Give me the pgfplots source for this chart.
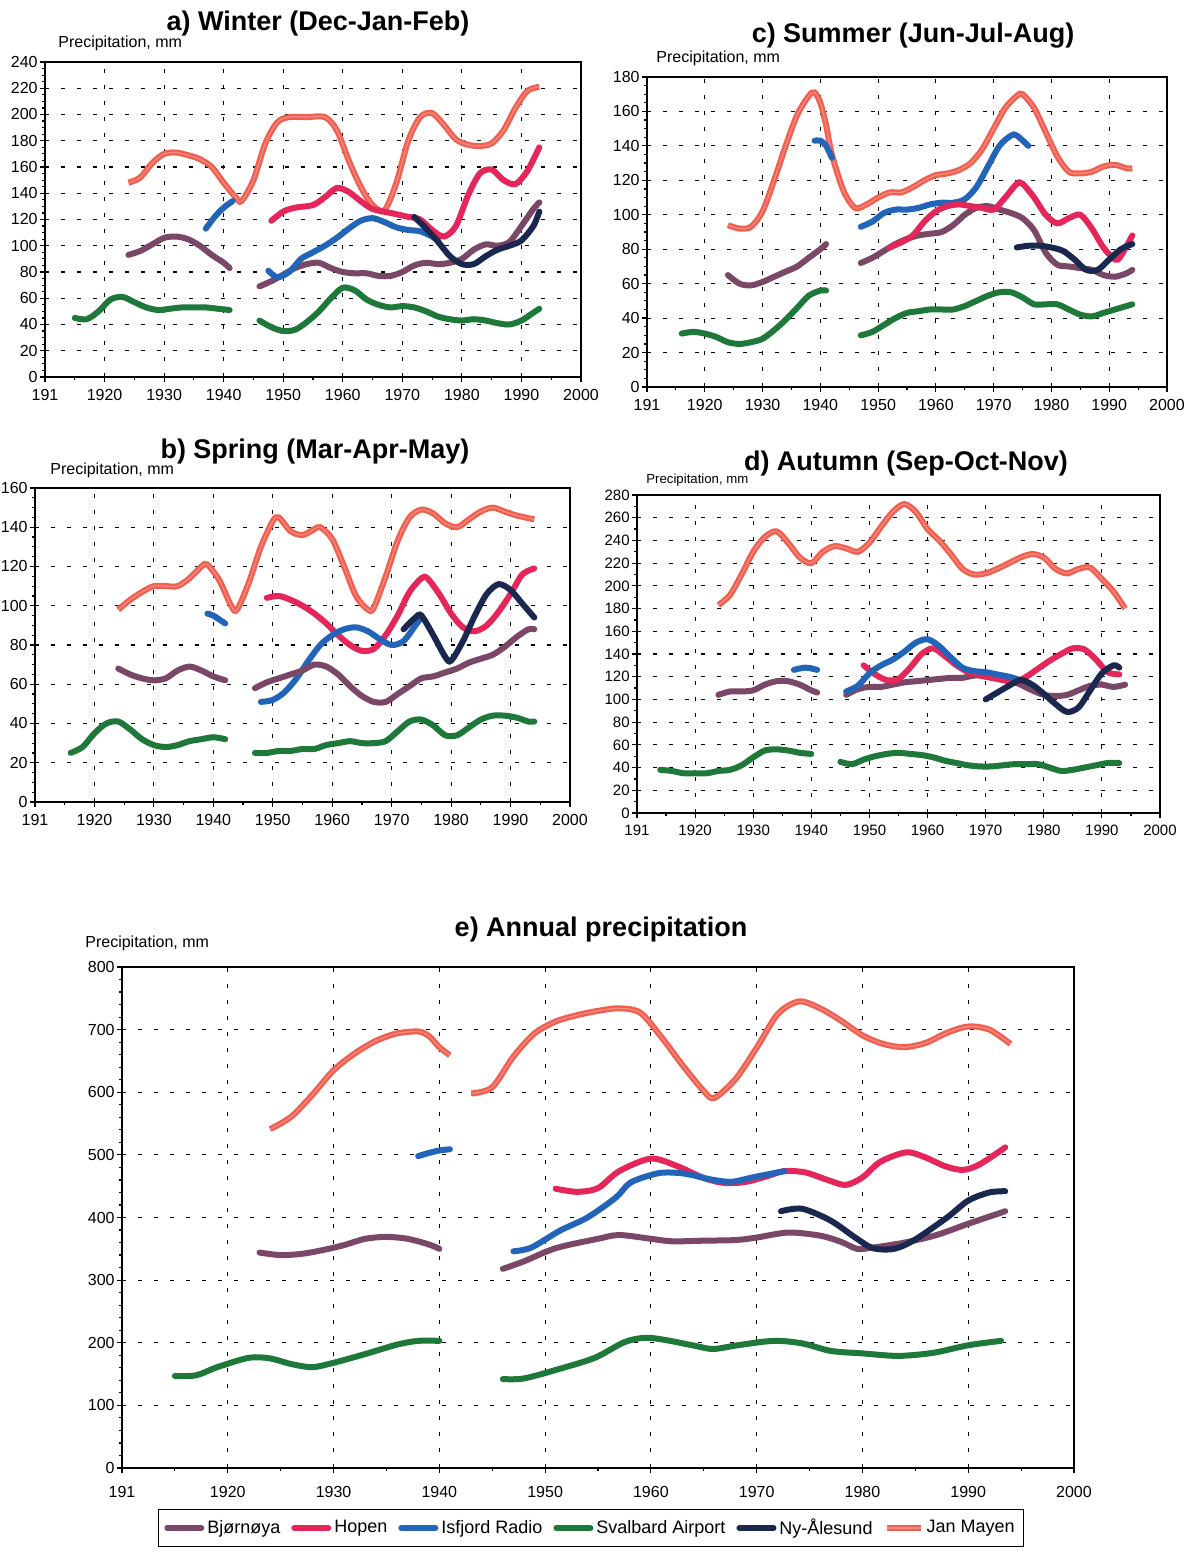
\documentclass[border=0pt]{standalone}
\usepackage{fontspec}
\setmainfont{Liberation Sans}
\usepackage{pgfplots}
\pgfplotsset{compat=1.18}

\definecolor{bjorn}{RGB}{122,72,102}
\definecolor{hopen}{RGB}{228,38,90}
\definecolor{isfj}{RGB}{34,100,184}
\definecolor{sval}{RGB}{30,120,58}
\definecolor{nyal}{RGB}{26,40,80}
\definecolor{janm}{RGB}{240,95,80}

\pgfplotsset{
  panel/.style={
    scale only axis, xmin=1910, xmax=2000,
    xtick={1910,1920,...,2000},
    xticklabels={191,1920,1930,1940,1950,1960,1970,1980,1990,2000},
    minor x tick num=1,
    tick pos=left,
    grid=major,
    major grid style={black, line width=0.55pt, dash pattern=on 2pt off 6pt},
    axis line style={black, line width=1.2pt},
    tick style={black, line width=0.6pt},
    tick align=outside, major tick length=2.5pt, minor tick length=1.5pt,
    ticklabel style={font=\fontsize{8}{9}\selectfont},
    yticklabel style={inner xsep=1pt},
    /pgf/number format/assume math mode=true,
    no markers,
  },
  bj/.style={bjorn, line width=3pt, smooth, line cap=round},
  ho/.style={hopen, line width=3pt, smooth, line cap=round},
  is/.style={isfj, line width=3pt, smooth, line cap=round},
  sv/.style={sval, line width=3pt, smooth, line cap=round},
  ny/.style={nyal, line width=3pt, smooth, line cap=round},
  jm/.style={janm, line width=1.2pt, double=janm!72!white, double distance=0.6pt, smooth},
}

\newcommand{\ttl}[1]{\fontsize{13.5}{16}\selectfont\bfseries #1}
\newcommand{\plab}{\fontsize{8}{9}\selectfont Precipitation, mm}

\begin{document}
\begin{tikzpicture}
\path[use as bounding box] (0,0) rectangle (601.5pt,775.5pt);

% ---------------- a) Winter
\begin{axis}[panel, at={(22.5pt,587pt)}, anchor=south west, width=268pt, height=157.5pt,
  ymin=0, ymax=240, ytick={0,20,...,240}, minor y tick num=3]
\addplot[jm] coordinates {(1924,148) (1926,152) (1928,163) (1930,170) (1932,171) (1934,169) (1936,166) (1938,160) (1940,148) (1942,137) (1943,134) (1945,150) (1947,178) (1949,194) (1951,198) (1954,198) (1957,198) (1959,188) (1961,165) (1963,145) (1965,131) (1967,127) (1969,148) (1971,180) (1973,198) (1975,201) (1977,192) (1979,181) (1981,177) (1983,176) (1985,178) (1987,188) (1989,205) (1991,218) (1993,221)};
\addplot[bj] coordinates {(1924,93) (1926,96) (1928,101) (1930,106) (1932,107) (1934,105) (1936,100) (1938,93) (1940,87) (1941,83)};
\addplot[bj] coordinates {(1946,69) (1948,73) (1950,78) (1952,83) (1954,86) (1956,87) (1958,83) (1960,80) (1962,79) (1964,79) (1966,77) (1968,77) (1970,80) (1972,85) (1974,87) (1976,86) (1978,87) (1980,90) (1982,97) (1984,101) (1986,100) (1988,103) (1990,115) (1992,128) (1993,133)};
\addplot[ho] coordinates {(1948,119) (1950,126) (1952,129) (1955,131) (1957,137) (1959,144) (1961,141) (1963,134) (1965,128) (1968,125) (1971,122) (1973,120) (1975,112) (1977,107) (1979,115) (1981,138) (1983,155) (1985,158) (1987,150) (1989,147) (1991,157) (1993,175)};
\addplot[is] coordinates {(1937,113) (1938.5,122) (1940,129) (1941.5,134)};
\addplot[is] coordinates {(1947.5,81) (1949,76) (1951,80) (1953,90) (1955,95) (1957,100) (1959,106) (1961,113) (1963,119) (1965,121) (1967,118) (1969,114) (1971,112) (1973,111) (1975,107) (1976,104)};
\addplot[ny] coordinates {(1972,122) (1974,113) (1976,103) (1978,92) (1980,86) (1982,86) (1984,92) (1986,97) (1988,100) (1990,104) (1992,115) (1993,126)};
\addplot[sv] coordinates {(1915,45) (1917,44) (1919,50) (1921,59) (1923,61) (1925,57) (1927,53) (1929,51) (1931,52) (1933,53) (1935,53) (1937,53) (1939,52) (1941,51)};
\addplot[sv] coordinates {(1946,43) (1948,38) (1950,35) (1952,36) (1954,42) (1956,50) (1958,60) (1960,68) (1962,66) (1964,59) (1966,55) (1968,53) (1970,54) (1972,53) (1974,50) (1976,46) (1978,44) (1980,43) (1982,44) (1984,43) (1986,41) (1988,40) (1990,43) (1992,49) (1993,52)};
\end{axis}

% ---------------- c) Summer
\begin{axis}[panel, at={(323.5pt,582pt)}, anchor=south west, width=260pt, height=155pt,
  ymin=0, ymax=180, ytick={0,20,...,180}, minor y tick num=3]
\addplot[jm] coordinates {(1924,94) (1926,92) (1928,93) (1930,102) (1932,120) (1934,140) (1936,158) (1938,169) (1939,171) (1940,165) (1941,152) (1942,135) (1944,114) (1946,104) (1948,106) (1950,110) (1952,113) (1954,113) (1956,116) (1958,120) (1960,123) (1962,124) (1964,126) (1966,130) (1968,138) (1970,150) (1972,162) (1974,169) (1975,170) (1977,162) (1979,148) (1981,134) (1983,125) (1985,124) (1987,125) (1989,128) (1991,129) (1993,127) (1994,127)};
\addplot[is] coordinates {(1939,143) (1940,143) (1941,140) (1942,133)};
\addplot[is] coordinates {(1947,93) (1949,96) (1951,101) (1953,103) (1955,103) (1957,104) (1959,106) (1961,107) (1963,107) (1965,109) (1967,116) (1969,128) (1971,140) (1973,146) (1974,146) (1976,140)};
\addplot[bj] coordinates {(1924,65) (1926,60) (1928,59) (1930,61) (1932,64) (1934,67) (1936,70) (1938,75) (1940,80) (1941,83)};
\addplot[bj] coordinates {(1947,72) (1949,75) (1951,79) (1953,83) (1955,86) (1957,88) (1959,89) (1961,90) (1963,94) (1965,100) (1967,104) (1969,105) (1971,103) (1973,101) (1975,98) (1977,91) (1979,78) (1981,71) (1983,70) (1985,69) (1987,68) (1989,65) (1991,64) (1993,66) (1994,68)};
\addplot[ho] coordinates {(1952,81) (1954,84) (1956,88) (1958,96) (1960,102) (1962,105) (1964,106) (1966,105) (1968,104) (1970,103) (1972,110) (1974,118) (1975,118) (1977,110) (1979,100) (1981,95) (1983,98) (1985,100) (1987,92) (1989,81) (1991,74) (1992,76) (1994,88)};
\addplot[ny] coordinates {(1974,81) (1976,82) (1978,82) (1980,81) (1982,79) (1984,74) (1986,68) (1988,68) (1990,74) (1992,80) (1994,83)};
\addplot[sv] coordinates {(1916,31) (1918,32) (1920,31) (1922,29) (1924,26) (1926,25) (1928,26) (1930,28) (1932,33) (1934,39) (1936,46) (1938,53) (1940,56) (1941,56)};
\addplot[sv] coordinates {(1947,30) (1949,32) (1951,36) (1953,40) (1955,43) (1957,44) (1959,45) (1961,45) (1963,45) (1965,47) (1967,50) (1969,53) (1971,55) (1973,55) (1975,52) (1977,48) (1979,48) (1981,48) (1983,45) (1985,42) (1987,41) (1989,43) (1991,45) (1993,47) (1994,48)};
\end{axis}

% ---------------- b) Spring
\begin{axis}[panel, at={(17.5pt,374.5pt)}, anchor=south west, width=267.5pt, height=157pt,
  ymin=0, ymax=160, ytick={0,20,...,160}, minor y tick num=3]
\addplot[jm] coordinates {(1924,98) (1926,103) (1928,107) (1930,110) (1932,110) (1934,110) (1936,114) (1938,120) (1939,121) (1941,113) (1943,100) (1944,98) (1946,112) (1948,130) (1950,143) (1951,145) (1953,138) (1955,136) (1957,139) (1958,140) (1960,134) (1962,120) (1964,105) (1966,98) (1967,99) (1969,115) (1971,133) (1973,145) (1975,149) (1977,147) (1979,142) (1981,140) (1983,144) (1985,148) (1987,150) (1989,148) (1991,146) (1994,144)};
\addplot[ho] coordinates {(1949,104) (1951,105) (1953,103) (1955,100) (1957,96) (1959,91) (1961,85) (1963,80) (1965,77) (1967,78) (1969,85) (1971,95) (1973,107) (1975,114) (1976,114) (1978,106) (1980,96) (1982,89) (1984,87) (1986,90) (1988,97) (1990,106) (1992,116) (1994,119)};
\addplot[is] coordinates {(1939,96) (1940,95) (1941,93) (1942,91)};
\addplot[is] coordinates {(1948,51) (1950,52) (1952,56) (1954,63) (1956,72) (1958,80) (1960,85) (1962,88) (1964,89) (1966,87) (1968,83) (1970,80) (1972,82) (1974,90) (1975,94)};
\addplot[ny] coordinates {(1972,88) (1974,94) (1975,95) (1977,85) (1979,74) (1980,72) (1982,82) (1984,95) (1986,106) (1988,111) (1990,108) (1992,101) (1994,94)};
\addplot[bj] coordinates {(1924,68) (1926,65) (1928,63) (1930,62) (1932,63) (1934,67) (1936,69) (1938,67) (1940,64) (1942,62)};
\addplot[bj] coordinates {(1947,58) (1949,61) (1951,63) (1953,65) (1955,67) (1957,70) (1959,69) (1961,65) (1963,59) (1965,54) (1967,51) (1969,51) (1971,55) (1973,59) (1975,63) (1977,64) (1979,66) (1981,68) (1983,71) (1985,73) (1987,75) (1989,79) (1991,84) (1993,88) (1994,88)};
\addplot[sv] coordinates {(1916,25) (1918,28) (1920,35) (1922,40) (1924,41) (1926,37) (1928,32) (1930,29) (1932,28) (1934,29) (1936,31) (1938,32) (1940,33) (1942,32)};
\addplot[sv] coordinates {(1947,25) (1949,25) (1951,26) (1953,26) (1955,27) (1957,27) (1959,29) (1961,30) (1963,31) (1965,30) (1967,30) (1969,31) (1971,36) (1973,41) (1975,42) (1977,39) (1979,34) (1981,34) (1983,38) (1985,42) (1987,44) (1989,44) (1991,43) (1993,41) (1994,41)};
\end{axis}

% ---------------- d) Autumn
\begin{axis}[panel, at={(318.5pt,369pt)}, anchor=south west, width=261.5pt, height=159pt,
  ymin=0, ymax=280, ytick={0,20,...,280}, minor y tick num=1,
  ticklabel style={font=\fontsize{7.5}{9}\selectfont}]
\addplot[jm] coordinates {(1924,183) (1926,192) (1928,210) (1930,230) (1932,243) (1934,248) (1936,238) (1938,225) (1940,220) (1942,230) (1944,235) (1946,233) (1948,230) (1950,238) (1952,252) (1954,265) (1956,272) (1958,265) (1960,250) (1962,240) (1964,228) (1966,215) (1968,210) (1970,211) (1972,215) (1974,220) (1976,225) (1978,228) (1980,225) (1982,215) (1984,211) (1986,215) (1988,216) (1990,206) (1992,195) (1994,180)};
\addplot[bj] coordinates {(1924,104) (1926,107) (1928,107) (1930,108) (1932,113) (1934,116) (1936,116) (1938,113) (1940,108) (1941,106)};
\addplot[bj] coordinates {(1946,104) (1948,109) (1950,111) (1952,111) (1954,113) (1956,115) (1958,116) (1960,117) (1962,118) (1964,119) (1966,119) (1968,121) (1970,121) (1972,120) (1974,117) (1976,113) (1978,108) (1980,104) (1982,103) (1984,104) (1986,108) (1988,112) (1990,113) (1992,111) (1994,113)};
\addplot[ho] coordinates {(1949,130) (1951,122) (1953,117) (1955,118) (1957,128) (1959,140) (1961,145) (1963,138) (1965,130) (1967,124) (1969,121) (1971,119) (1973,117) (1975,115) (1977,120) (1979,127) (1981,134) (1983,140) (1985,145) (1987,144) (1989,135) (1991,124) (1993,122)};
\addplot[is] coordinates {(1937,126) (1939,128) (1941,126)};
\addplot[is] coordinates {(1946,107) (1948,112) (1950,123) (1952,130) (1954,135) (1956,142) (1958,150) (1960,153) (1962,147) (1964,137) (1966,128) (1968,125) (1970,124) (1972,122) (1974,120) (1976,117)};
\addplot[ny] coordinates {(1970,100) (1972,106) (1974,112) (1976,117) (1978,113) (1980,105) (1982,96) (1984,89) (1986,93) (1988,108) (1990,123) (1992,130) (1993,128)};
\addplot[sv] coordinates {(1914,38) (1916,37) (1918,35) (1920,35) (1922,35) (1924,37) (1926,38) (1928,42) (1930,49) (1932,55) (1934,56) (1936,55) (1938,53) (1940,52)};
\addplot[sv] coordinates {(1945,45) (1947,43) (1949,47) (1951,50) (1953,52) (1955,53) (1957,52) (1959,51) (1961,49) (1963,46) (1965,44) (1967,42) (1969,41) (1971,41) (1973,42) (1975,43) (1977,43) (1979,43) (1981,40) (1983,37) (1985,38) (1987,40) (1989,42) (1991,44) (1993,44)};
\end{axis}

% ---------------- e) Annual
\begin{axis}[panel, at={(61pt,41.5pt)}, anchor=south west, width=476pt, height=250.5pt,
  ymin=0, ymax=800, ytick={0,100,...,800}, minor y tick num=4,
  xticklabel style={yshift=-3pt},
  legend columns=6,
  legend image code/.code={\draw[#1] (0pt,0pt) -- (17pt,0pt);},
  legend style={at={(0.4926,-0.1198)}, anchor=center, draw=black, line width=0.8pt,
    font=\fontsize{9}{11}\selectfont, inner xsep=3pt, inner ysep=3pt,
    nodes={inner xsep=1.5pt, inner ysep=1.5pt},
    /tikz/every even column/.append style={column sep=4pt}}]
\addlegendimage{bj}\addlegendentry{Bjørnøya}
\addlegendimage{ho}\addlegendentry{Hopen}
\addlegendimage{is}\addlegendentry{Isfjord Radio}
\addlegendimage{sv}\addlegendentry{Svalbard Airport}
\addlegendimage{ny}\addlegendentry{Ny-Ålesund}
\addlegendimage{jm}\addlegendentry{Jan Mayen}
\addplot[jm, forget plot] coordinates {(1924,541) (1926,561) (1928,596) (1930,635) (1932,662) (1934,682) (1936,694) (1938,697) (1939,690) (1940,672) (1941,659)};
\addplot[jm, forget plot] coordinates {(1943,598) (1945,608) (1947,657) (1949,694) (1951,713) (1953,723) (1955,730) (1957,734) (1959,727) (1961,688) (1963,643) (1965,602) (1966,591) (1968,621) (1970,671) (1972,725) (1974,745) (1976,734) (1978,714) (1980,691) (1982,677) (1984,672) (1986,679) (1988,695) (1990,705) (1992,700) (1994,677)};
\addplot[bj, forget plot] coordinates {(1923,344) (1925,340) (1927,342) (1929,348) (1931,356) (1933,366) (1935,369) (1937,366) (1939,357) (1940,350)};
\addplot[bj, forget plot] coordinates {(1946,318) (1948,330) (1951,351) (1955,366) (1957,372) (1960,366) (1962,362) (1965,363) (1968,364) (1970,368) (1973,376) (1976,371) (1978,361) (1979.5,350) (1981,352) (1984,360) (1987,372) (1990,390) (1993.5,410)};
\addplot[ho, forget plot] coordinates {(1951,446) (1953,441) (1955,447) (1957,474) (1960,494) (1962.5,482) (1965,463) (1967,455) (1969,457) (1971,466) (1972.6,474) (1974.6,472) (1976.7,460) (1978.4,452) (1980,464) (1981.7,489) (1984.1,504) (1985.8,497) (1987.8,482) (1989.5,476) (1991.1,485) (1993.5,512)};
\addplot[is, forget plot] coordinates {(1938,498) (1939,503) (1940,507) (1941,509)};
\addplot[is, forget plot] coordinates {(1947,346) (1948.7,352) (1951.4,379) (1954,400) (1956.7,432) (1958.1,456) (1960.8,471) (1963.2,470) (1965.6,461) (1967.6,457) (1969.6,464) (1972.6,474)};
\addplot[ny, forget plot] coordinates {(1972.3,410) (1974.3,414) (1977,395) (1979.4,367) (1981,351) (1983,350) (1985,365) (1988,400) (1990,427) (1992,440) (1993.5,442)};
\addplot[sv, forget plot] coordinates {(1915,147) (1917,148) (1919,161) (1922,176) (1924,175) (1926,166) (1928,161) (1930,168) (1933,182) (1936,197) (1938,203) (1940,203)};
\addplot[sv, forget plot] coordinates {(1946,142) (1948,143) (1951.3,158) (1954.7,176) (1957.5,201) (1959.5,208) (1961.5,204) (1964.2,195) (1965.9,190) (1968.2,196) (1971.6,203) (1974.3,199) (1977,187) (1980,183) (1983.4,179) (1986.7,184) (1990,196) (1993.1,203)};
\end{axis}

% titles and labels
\node at (159pt,763.5pt) {\ttl{a) Winter (Dec-Jan-Feb)}};
\node at (456.5pt,757.5pt) {\ttl{c) Summer (Jun-Jul-Aug)}};
\node at (157.5pt,549.5pt) {\ttl{b) Spring (Mar-Apr-May)}};
\node at (453pt,543.5pt) {\ttl{d) Autumn (Sep-Oct-Nov)}};
\node at (300.5pt,310.5pt) {\ttl{e) Annual precipitation}};
\node[anchor=west, inner sep=0pt] at (29pt,754pt) {\plab};
\node[anchor=west, inner sep=0pt] at (328pt,746.5pt) {\plab};
\node[anchor=west, inner sep=0pt] at (25pt,540.5pt) {\plab};
\node[anchor=west, inner sep=0pt] at (323pt,535.5pt) {\fontsize{6.6}{8}\selectfont Precipitation, mm};
\node[anchor=west, inner sep=0pt] at (42.5pt,304pt) {\plab};
\end{tikzpicture}
\end{document}
